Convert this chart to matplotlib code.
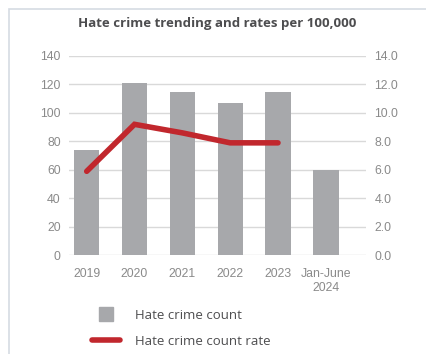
import matplotlib.pyplot as plt
import matplotlib.patches as mpatches
from matplotlib.lines import Line2D

years = ['2019', '2020', '2021', '2022', '2023', 'Jan-June\n2024']
counts = [74, 121, 115, 107, 115, 60]
rates = [5.9, 9.2, 8.6, 7.9, 7.9]

bar_color = '#a7a8ab'
line_color = '#c1272d'
tick_color = '#8a8a8a'
grid_color = '#d9d9d9'

plt.rcParams['font.family'] = ['Liberation Sans', 'DejaVu Sans']

W, H = 427, 354
fig = plt.figure(figsize=(W / 100, H / 100), dpi=100)

# frame around the whole chart
fig.patches.append(mpatches.Rectangle((9 / W, -0.05), 1.1, 1 - 9 / H + 0.05,
                                      transform=fig.transFigure, fill=False,
                                      edgecolor='#d5dbe3', linewidth=1.2))

ax = fig.add_axes([69 / W, 1 - 255.3 / H, (366 - 69) / W, (255.3 - 56) / H])
x = list(range(len(years)))
ax.bar(x, counts, width=0.53, color=bar_color, zorder=2)
ax.set_ylim(0, 140)
ax.set_yticks(range(0, 141, 20))
ax.set_xlim(-0.37, 5.84)
ax.set_xticks(x)
ax.set_xticklabels(years)
ax.grid(axis='y', color=grid_color, linewidth=1, zorder=0)
for s in ax.spines.values():
    s.set_visible(False)
ax.tick_params(length=0, colors=tick_color, labelsize=8.8, pad=9)
ax.tick_params(axis='y', pad=6)

ax2 = ax.twinx()
ax2.plot(x[:len(rates)], rates, color=line_color, linewidth=4,
         solid_capstyle='round', solid_joinstyle='miter', zorder=3)
ax2.set_ylim(0, 14)
ax2.set_yticks(range(0, 15, 2))
ax2.set_yticklabels(['%.1f' % v for v in range(0, 15, 2)])
for s in ax2.spines.values():
    s.set_visible(False)
ax2.tick_params(length=0, colors=tick_color, labelsize=8.8, pad=6)

fig.text(217 / W, 1 - 24 / H, 'Hate crime trending and rates per 100,000',
         ha='center', va='center', fontsize=9.5, fontweight='bold',
         color='#4d4d4f', family=['Open Sans', 'DejaVu Sans'])

# legend
handles = [Line2D([0], [0], color=bar_color, linestyle='none', marker='s', markersize=10),
           Line2D([0], [0], color=line_color, linewidth=4, solid_capstyle='round')]
leg = fig.legend(handles, ['Hate crime count', 'Hate crime count rate'],
                 loc='upper left', bbox_to_anchor=(80 / W, 1 - 297 / H),
                 frameon=False, handlelength=2.1,
                 handletextpad=1.2, labelspacing=1.0,
                 prop={'family': ['Open Sans', 'DejaVu Sans'], 'size': 9.5})
for t in leg.get_texts():
    t.set_color('#4d4d4f')

fig.savefig('out.png', dpi=100)
